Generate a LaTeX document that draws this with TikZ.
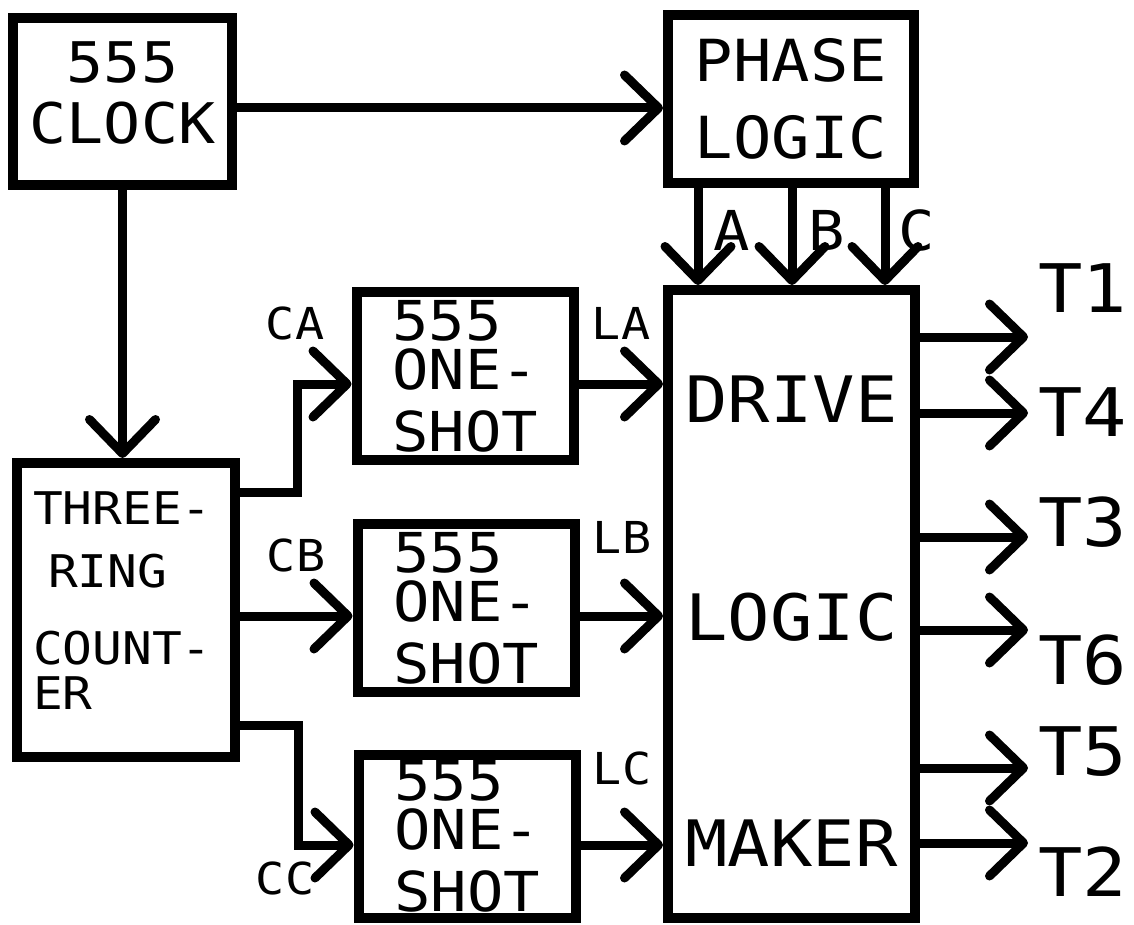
\documentclass[tikz,border=0pt]{standalone}
\usepackage{fontspec}
\usepackage{tikz}
\usetikzlibrary{arrows.meta}
\newfontfamily\plotfont[FakeStretch=1.1]{DejaVu Sans Mono}

\tikzset{
  blk/.style={draw, line width=10pt},
  shot/.style={blk, minimum width=217pt, minimum height=168pt, align=left,
    font=\plotfont\fontsize{55}{62}\selectfont},
  arr/.style={line width=9pt, -{Straight Barb[length=34pt, width=66pt, round]}},
  lbl/.style={inner sep=0pt, font=\plotfont\fontsize{44}{50}\selectfont},
  tlbl/.style={inner sep=0pt, anchor=west, font=\plotfont\fontsize{67}{70}\selectfont}
}

\begin{document}
\begin{tikzpicture}[x=1pt, y=-1pt]
        \useasboundingbox (0,0) rectangle (1134,925);

        % Blocks
        \node[blk, minimum width=219pt, minimum height=167pt, align=center, text depth=18pt,
          font=\plotfont\fontsize{56}{61}\selectfont] (clock) at (122.5,101.5) {555\\CLOCK};
        \node[blk, minimum width=246pt, minimum height=168pt, align=center,
          font=\plotfont\fontsize{58}{77}\selectfont] (phase) at (791,99) {PHASE\\LOGIC};
        \node[blk, minimum width=247pt, minimum height=628pt, align=center, text height=524pt,
          font=\plotfont\fontsize{64}{218}\selectfont] (drive) at (791.5,604) {DRIVE\\LOGIC\\[8pt]MAKER};
        \node[blk, minimum width=218pt, minimum height=294pt, align=left, text width=186pt,
          inner xsep=16pt, text depth=203pt, font=\plotfont\fontsize{45}{63}\selectfont]
          (counter) at (126,610) {THREE-\\\hspace*{15pt}RING\\[14pt]COUNT-\\[-18pt]ER};
        \node[shot] (shotA) at (465,376) {555\\[-13pt]ONE-\\SHOT};
        \node[shot] (shotB) at (466,608) {555\\[-13pt]ONE-\\SHOT};
        \node[shot, minimum height=163pt] (shotC) at (467,836.5) {555\\[-13pt]ONE-\\SHOT};

        % Clock lines
        \draw[arr] (clock.east |- 0,108) -- (phase.west |- 0,108);
        \draw[arr] (clock.south) -- (clock.south |- counter.north);

        % Phases A, B, C
        \foreach \xx/\lx/\ph in {698/732/A, 792/827/B, 885/917/C}{
          \draw[arr] (phase.south -| \xx,0) -- (drive.north -| \xx,0);
          \node[inner sep=0pt, font=\plotfont\fontsize{55}{60}\selectfont] (ph\ph) at (\lx,230) {\ph};
        }

        % Counter to one-shots
        \coordinate (kA) at (297,384);
        \coordinate (kC) at (298,845);
        \draw[arr] (counter.east |- 0,492) -| (kA) -- (shotA.west |- kA);
        \draw[arr] (counter.east |- 0,616) -- (shotB.west |- 0,616);
        \draw[arr] (counter.east |- 0,725) -| (kC) -- (shotC.west |- kC);
        \node[lbl] (lCA) at (295,323) {CA};
        \node[lbl] (lCB) at (296,555) {CB};
        \node[lbl] (lCC) at (285,878) {CC};

        % One-shots to drive logic
        \draw[arr] (shotA.east |- kA) -- (drive.west |- kA);
        \draw[arr] (shotB.east |- 0,616) -- (drive.west |- 0,616);
        \draw[arr] (shotC.east |- kC) -- (drive.west |- kC);
        \node[lbl] (lLA) at (621,323) {LA};
        \node[lbl] (lLB) at (622,537) {LB};
        \node[lbl] (lLC) at (622,768) {LC};

        % Outputs
        \foreach \yy/\ly/\tn in {337/288/T1, 413/412/T4, 537/522/T3, 630/660/T6, 768/752/T5, 843/872/T2}{
          \coordinate (o\tn) at (1028,\yy);
          \draw[arr] (drive.east |- o\tn) -- (o\tn);
          \node[tlbl] (l\tn) at (1038,\ly) {\tn};
        }

    \end{tikzpicture}
\end{document}
